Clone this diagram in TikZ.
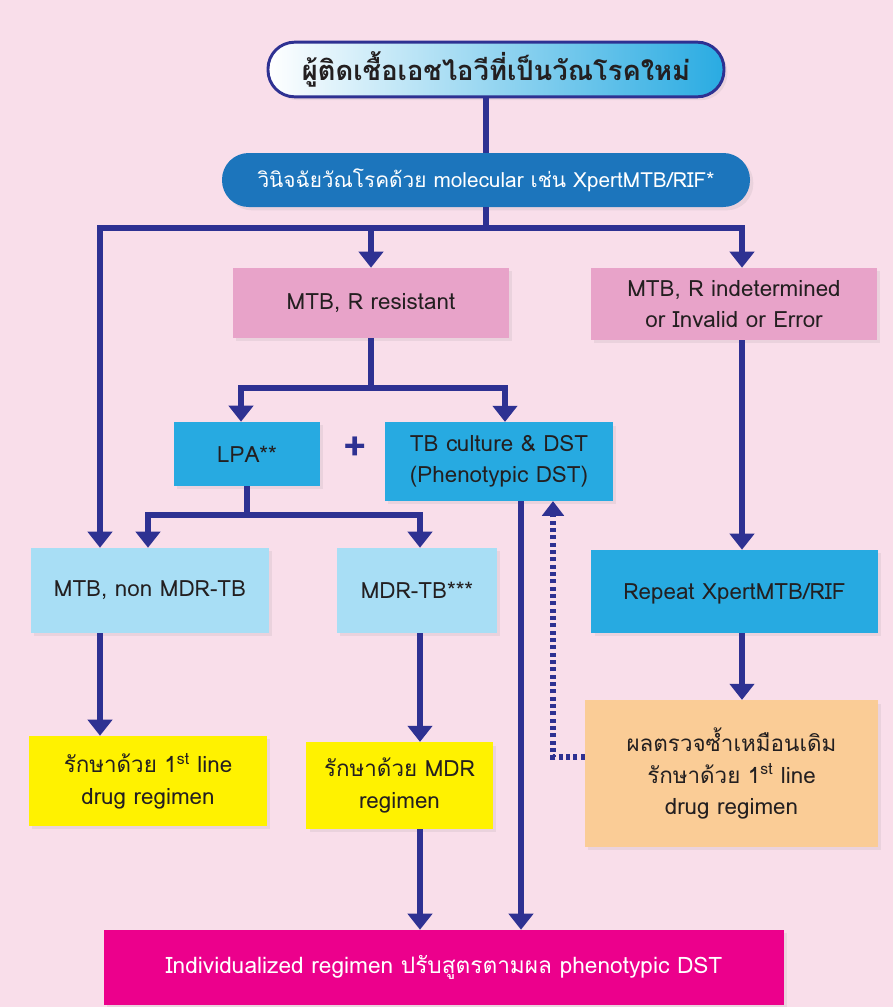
\documentclass[tikz,border=0pt]{standalone}
\usepackage{fontspec}
\setmainfont[Script=Thai]{Loma}
\usepackage{tikz}
\usetikzlibrary{positioning,arrows.meta,shadows}
\definecolor{bgpink}{RGB}{249,222,234}
\definecolor{lineblue}{RGB}{46,49,146}
\definecolor{skyblue}{RGB}{41,171,226}
\definecolor{deepblue}{RGB}{28,117,188}
\definecolor{softpink}{RGB}{232,163,201}
\definecolor{midblue}{RGB}{39,170,225}
\definecolor{paleblue}{RGB}{168,222,245}
\definecolor{brightyellow}{RGB}{255,242,0}
\definecolor{softorange}{RGB}{250,204,150}
\definecolor{hotmagenta}{RGB}{236,0,140}
\definecolor{textdark}{RGB}{35,31,32}

\begin{document}
\begin{tikzpicture}[x=0.75pt, y=-0.75pt,
  every node/.style={font=\fontsize{16.8}{23.5}\selectfont, text=textdark, align=center, inner sep=0pt},
  box/.style={rectangle, drop shadow={shadow xshift=2.5pt, shadow yshift=-2.5pt, opacity=0.12}},
  link/.style={draw=lineblue, line width=5pt},
  arr/.style={link, -{Triangle[width=18pt,length=12pt]}}]
% background
\fill[bgpink] (0,0) rectangle (893,1007);
\useasboundingbox (0,0) rectangle (893,1007);

% boxes
\node[box, rounded corners=20pt, draw=lineblue, line width=2.2pt, left color=white, right color=skyblue,
  minimum width=342pt, minimum height=41pt, font=\fontsize{20.5}{24}\selectfont\bfseries] (hiv) at (496,69.5) {ผู้ติดเชื้อเอชไอวีที่เป็นวัณโรคใหม่};
\node[box, rounded corners=20pt, fill=deepblue, text=white, minimum width=396pt, minimum height=40.5pt,
  font=\fontsize{15.6}{20}\selectfont] (mol) at (486,180) {วินิจฉัยวัณโรคด้วย molecular เช่น XpertMTB/RIF*};
\node[box, fill=softpink, minimum width=207pt, minimum height=52.5pt] (res) at (371,303) {MTB, R resistant};
\node[box, fill=softpink, minimum width=214.5pt, minimum height=54pt] (indet) at (734,304) {MTB, R indetermined\\or Invalid or Error};
\node[box, fill=midblue, minimum width=109.5pt, minimum height=48pt] (lpa) at (247,454) {LPA**};
\node[font=\fontsize{30}{30}\selectfont\bfseries, text=lineblue] (plus) at (355,449) {+};
\node[box, fill=midblue, minimum width=171pt, minimum height=59pt] (cult) at (499,461.5) {TB culture \& DST\\(Phenotypic DST)};
\node[box, fill=paleblue, minimum width=178.5pt, minimum height=63.75pt] (nonmdr) at (150,590.5) {MTB, non MDR-TB};
\node[box, fill=paleblue, minimum width=120pt, minimum height=63.75pt] (mdr) at (417,590.5) {MDR-TB***};
\node[box, fill=midblue, minimum width=215pt, minimum height=62.25pt, text depth=-6pt] (rpt) at (734.5,591.5) {Repeat XpertMTB/RIF};
\node[box, fill=brightyellow, minimum width=178.5pt, minimum height=67.5pt] (first) at (148,781) {รักษาด้วย 1\textsuperscript{st} line\\drug regimen};
\node[box, fill=brightyellow, minimum width=140pt, minimum height=65pt] (mdrreg) at (399.5,785.5) {รักษาด้วย MDR\\regimen};
\node[box, fill=softorange, minimum width=219.75pt, minimum height=110pt] (same) at (731.5,773.5) {ผลตรวจซ้ำเหมือนเดิม\\รักษาด้วย 1\textsuperscript{st} line\\drug regimen};
\node[box, fill=hotmagenta, text=white, minimum width=510pt, minimum height=56.25pt,
  font=\fontsize{17}{20}\selectfont] (indiv) at (444,967.5) {Individualized regimen ปรับสูตรตามผล phenotypic DST};

% split points
\coordinate (jmid) at (486,228);
\coordinate (jleft) at (100,228);
\coordinate (jright) at (742,228);
\coordinate (lpain) at (241,388);
\coordinate (cultin) at (505,388);
\coordinate (nonin) at (148,515);
\coordinate (mdrin) at (420,515);
\coordinate (dotk) at (553,757);

% connectors
\draw[link] (hiv.south -| mol) -- (mol);
\draw[link] (mol) -- (jmid);
\draw[link, line cap=rect] (jleft) -- (jright);
\draw[arr] (jleft) -- (jleft |- nonmdr.north);
\draw[arr] (res.north |- jmid) -- (res.north);
\draw[arr] (jright) -- (jright |- indet.north);

\draw[link] (res.south) -- (res.south |- lpain);
\draw[link, line cap=rect] (lpain) -- (cultin);
\draw[arr] (lpain) -- (lpain |- lpa.north);
\draw[arr] (cultin) -- (cultin |- cult.north);

\draw[link] (lpa.south) -- (lpa.south |- nonin);
\draw[link, line cap=rect] (nonin) -- (mdrin);
\draw[arr] (nonin) -- (nonin |- nonmdr.north);
\draw[arr] (mdrin) -- (mdrin |- mdr.north);

\draw[arr] (jright |- indet.south) -- (jright |- rpt.north);
\draw[arr] (jright |- rpt.south) -- (jright |- same.north);
\draw[arr] (jleft |- nonmdr.south) -- (jleft |- first.north);
\draw[arr] (mdrin |- mdr.south) -- (mdrin |- mdrreg.north);
\draw[arr] (mdrin |- mdrreg.south) -- (mdrin |- indiv.north);
\draw[arr] ([xshift=16.5pt]cult.south) -- ([xshift=16.5pt]cult.south |- indiv.north);

\draw[draw=lineblue, line width=4pt, dash pattern=on 3pt off 2.5pt, -{Triangle[width=16pt,length=11pt]}]
  (same.west |- dotk) -- (dotk) -- (dotk |- cult.south);
\end{tikzpicture}
\end{document}
